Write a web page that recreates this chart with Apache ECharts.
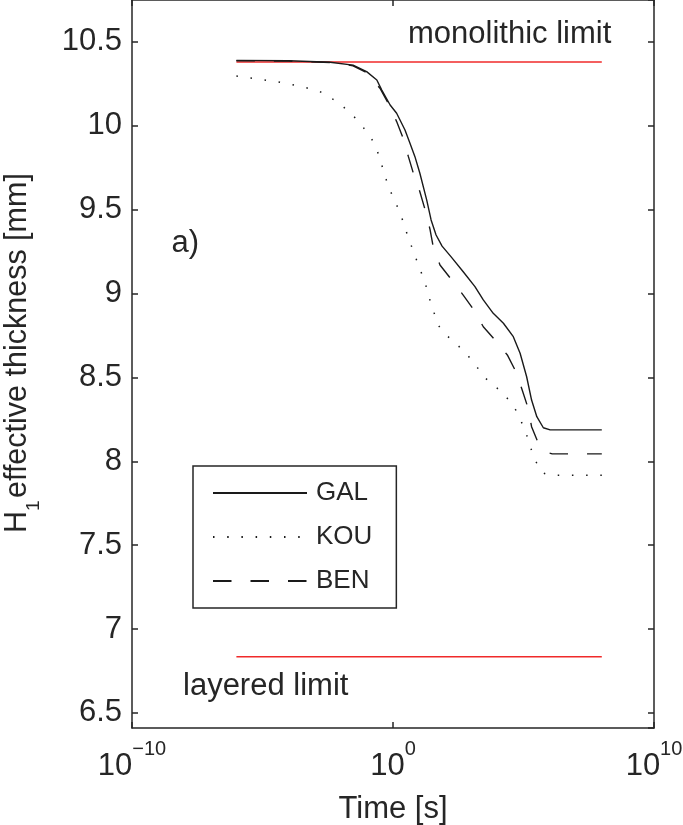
<!DOCTYPE html>
<html><head><meta charset="utf-8">
<script src="https://cdn.jsdelivr.net/npm/echarts@6/dist/echarts.min.js"></script>
<style>html,body{margin:0;padding:0;background:#fff}#c{width:683px;height:825px}</style>
</head><body><div id="c"></div>
<script>
// ---- data ----
const xTickExponents = [-10, 0, 10];
const yTickLabels = ['6.5','7','7.5','8','8.5','9','9.5','10','10.5'];

const galTime = [1e-6, 1e-4, 3.89e-3, 2.95e-2, 9.77e-2, 0.240, 0.372, 0.776, 1.38, 2.88, 4.47, 6.92, 10.7, 19.5, 28.8, 44.7, 75.9, 166, 490, 1380, 2880, 6920, 1.70e4, 4.07e4, 7.41e4, 1.32e5, 2.04e5, 3.24e5, 5.75e5, 1.05e6, 1e8];
const galH    = [10.390, 10.388, 10.379, 10.362, 10.323, 10.273, 10.213, 10.124, 10.075, 9.975, 9.896, 9.816, 9.717, 9.558, 9.439, 9.349, 9.283, 9.220, 9.130, 9.041, 8.962, 8.882, 8.823, 8.743, 8.644, 8.504, 8.365, 8.266, 8.200, 8.187, 8.187];

const kouTime = [1e-6, 3.55e-6, 1.20e-5, 4.07e-5, 1.38e-4, 4.68e-4, 1.51e-3, 4.47e-3, 1.32e-2, 3.24e-2, 7.24e-2, 0.151, 0.251, 0.372, 0.525, 0.813, 1.38, 2.14, 3.16, 4.79, 7.41, 11.5, 17.8, 24.5, 36.3, 52.5, 120, 302, 724, 1550, 3310, 8510, 2.14e4, 4.47e4, 7.76e4, 1.26e5, 1.82e5, 2.75e5, 5.13e5, 1e6, 1e8];
const kouH    = [10.297, 10.285, 10.273, 10.261, 10.245, 10.227, 10.206, 10.164, 10.110, 10.054, 9.991, 9.923, 9.850, 9.766, 9.687, 9.607, 9.528, 9.455, 9.373, 9.294, 9.214, 9.135, 9.053, 8.974, 8.892, 8.813, 8.747, 8.692, 8.632, 8.568, 8.498, 8.445, 8.385, 8.322, 8.246, 8.167, 8.087, 8.008, 7.932, 7.917, 7.917];

const benTime = [1e-6, 1e-4, 3.89e-3, 2.95e-2, 9.77e-2, 0.316, 0.661, 1.38, 2.45, 3.89, 6.03, 10.7, 16.8, 26.2, 34.7, 63.1, 178, 490, 1260, 2880, 8130, 2.40e4, 5.13e4, 8.91e4, 1.51e5, 2.04e5, 3.72e5, 6.61e5, 1.26e6, 1e8];
const benH    = [10.388, 10.386, 10.377, 10.358, 10.318, 10.224, 10.134, 10.025, 9.926, 9.816, 9.717, 9.607, 9.502, 9.383, 9.279, 9.170, 9.081, 8.991, 8.902, 8.802, 8.723, 8.634, 8.534, 8.425, 8.316, 8.206, 8.107, 8.056, 8.044, 8.044];

const limitTime   = [1e-6, 1e8];
const monolithicH = [10.38, 10.38];
const layeredH    = [6.835, 6.835];

// ---- chart ----
const FONT = 'Liberation Sans, Arial, Helvetica, sans-serif';
const INK = '#262626';
const FS = 31;
const zip = (a, b) => a.map((v, i) => [v, b[i]]);

const chart = echarts.init(document.getElementById('c'), null, {renderer: 'canvas'});

const axisLineStyle = {color: INK, width: 1.5};
const xAxisCommon = {
  type: 'log', logBase: 10, min: 1e-10, max: 1e10, splitNumber: 2,
  axisLine: {show: true, onZero: false, lineStyle: axisLineStyle},
  axisTick: {show: true, inside: true, length: 6, lineStyle: axisLineStyle},
  minorTick: {show: false}, splitLine: {show: false}, minorSplitLine: {show: false}
};
const yAxisCommon = {
  type: 'value', min: 6.41, max: 10.75, splitNumber: 8,
  axisLine: {show: true, onZero: false, lineStyle: axisLineStyle},
  axisTick: {show: true, inside: true, length: 6, lineStyle: axisLineStyle},
  splitLine: {show: false}
};

const option = {
  animation: false,
  backgroundColor: '#fff',
  grid: {left: 132, right: 29, top: 0, bottom: 97, containLabel: false, outerBoundsMode: 'none'},
  xAxis: [
    Object.assign({}, xAxisCommon, {
      position: 'bottom',
      name: 'Time [s]', nameLocation: 'middle', nameGap: 65.5,
      nameTextStyle: {fontSize: FS, fontFamily: FONT, color: INK},
      axisLabel: {
        show: true, margin: 11.6, showMinLabel: true, showMaxLabel: true,
        formatter: function (v) {
          const e = Math.round(Math.log10(v));
          if (xTickExponents.indexOf(e) < 0) return '';
          return '{b|10}{s|' + (e < 0 ? '\u2212' + (-e) : e) + '}';
        },
        rich: {
          b: {fontSize: FS, lineHeight: 54, fontFamily: FONT, color: INK},
          s: {fontSize: 20, lineHeight: 20, fontFamily: FONT, color: INK, verticalAlign: 'top'}
        }
      }
    }),
    Object.assign({}, xAxisCommon, {position: 'top', axisLabel: {show: false}})
  ],
  yAxis: [
    Object.assign({}, yAxisCommon, {
      position: 'left',
      axisLabel: {
        show: true, margin: 10, fontSize: FS, fontFamily: FONT, color: INK,
        showMinLabel: false, showMaxLabel: false,
        formatter: function (v) {
          const s = String(Math.round(v * 100) / 100);
          return yTickLabels.indexOf(s) >= 0 ? s : '';
        }
      }
    }),
    Object.assign({}, yAxisCommon, {position: 'right', axisLabel: {show: false}})
  ],
  legend: {
    orient: 'vertical', left: 193, top: 466,
    data: ['GAL', 'KOU', 'BEN'],
    itemWidth: 94, itemHeight: 26, itemGap: 18,
    padding: [14, 24, 14, 19],
    borderColor: INK, borderWidth: 1.5, borderRadius: 0, backgroundColor: '#fff',
    textStyle: {fontSize: 26, fontFamily: FONT, color: INK, padding: [0, 0, 0, 4]},
    itemStyle: {color: 'rgba(0,0,0,0)', borderWidth: 0, opacity: 0},
    selectedMode: false
  },
  series: [
    {name: 'monolithic', type: 'line', data: zip(limitTime, monolithicH), symbol: 'none', showSymbol: false,
     lineStyle: {color: '#f02a2a', width: 1.5}, z: 2},
    {name: 'layered', type: 'line', data: zip(limitTime, layeredH), symbol: 'none', showSymbol: false,
     lineStyle: {color: '#f02a2a', width: 1.5}, z: 2},
    {name: 'GAL', type: 'line', data: zip(galTime, galH), symbol: 'none', showSymbol: false, smooth: false,
     color: '#1a1a1a', lineStyle: {color: '#1a1a1a', width: 1.4, type: 'solid'}, z: 3},
    {name: 'KOU', type: 'line', data: zip(kouTime, kouH), symbol: 'none', showSymbol: false,
     color: '#1a1a1a', lineStyle: {color: '#1a1a1a', width: 1.5, type: [1.5, 12.7]}, z: 3},
    {name: 'BEN', type: 'line', data: zip(benTime, benH), symbol: 'none', showSymbol: false,
     color: '#1a1a1a', lineStyle: {color: '#1a1a1a', width: 1.4, type: [18.5, 19]}, z: 3}
  ],
  graphic: [
    {type: 'text', x: 408, y: 34.5, z: 10,
     style: {text: 'monolithic limit', font: FS + 'px ' + FONT, fill: INK, verticalAlign: 'middle', align: 'left'}},
    {type: 'text', x: 183, y: 686, z: 10,
     style: {text: 'layered limit', font: FS + 'px ' + FONT, fill: INK, verticalAlign: 'middle', align: 'left'}},
    {type: 'text', x: 171.5, y: 243.5, z: 10,
     style: {text: 'a)', font: FS + 'px ' + FONT, fill: INK, verticalAlign: 'middle', align: 'left'}},
    {type: 'group', x: 0, y: 533, rotation: Math.PI / 2, children: [
      {type: 'text', x: 0, y: 17.6, style: {text: 'H', font: '30.5px ' + FONT, fill: INK, verticalAlign: 'middle', align: 'left'}},
      {type: 'text', x: 22, y: 33.5, style: {text: '1', font: '19px ' + FONT, fill: INK, verticalAlign: 'middle', align: 'left'}},
      {type: 'text', x: 35, y: 17.6, style: {text: 'effective thickness [mm]', font: '30.5px ' + FONT, fill: INK, verticalAlign: 'middle', align: 'left'}}
    ]}
  ]
};
chart.setOption(option);
</script>
</body></html>
